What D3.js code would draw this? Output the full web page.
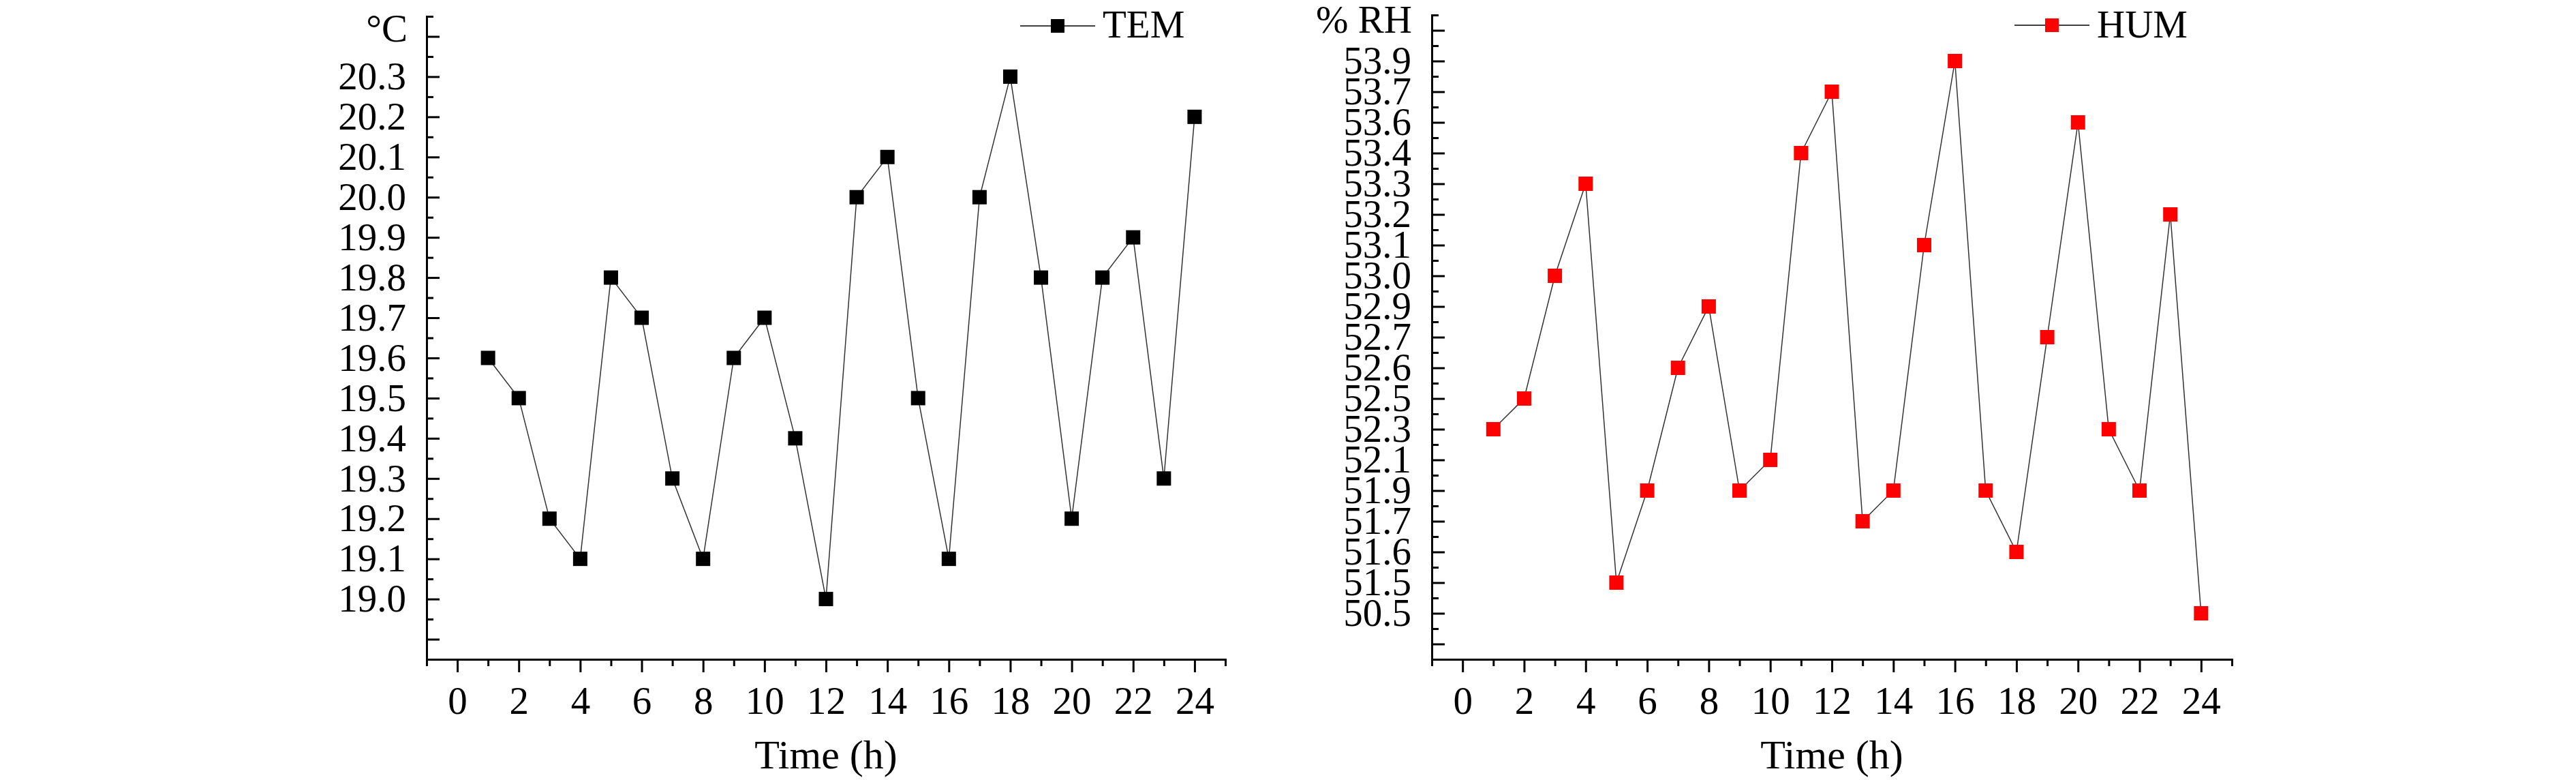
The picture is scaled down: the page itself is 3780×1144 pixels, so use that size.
<!DOCTYPE html>
<html>
<head>
  <meta charset="utf-8">
  <script src="https://d3js.org/d3.v7.min.js"></script>
  <style>
    body { margin: 0; background: #fff; }
    svg text { font-family: "Liberation Serif", "Times New Roman", serif; fill: #000; }
    .axis path, .axis line { stroke: #000; stroke-width: 3; }
    .axis path { stroke-linecap: square; }
  </style>
</head>
<body>
<script>
  // hourly readings, 1..24 h
  var hours = d3.range(1, 25);
  var tem = [19.6, 19.5, 19.2, 19.1, 19.8, 19.7, 19.3, 19.1, 19.6, 19.7, 19.4, 19.0,
             20.0, 20.1, 19.5, 19.1, 20.0, 20.3, 19.8, 19.2, 19.8, 19.9, 19.3, 20.2];
  var hum = [52.3, 52.5, 53.0, 53.3, 51.5, 51.9, 52.6, 52.9, 51.9, 52.1, 53.4, 53.7,
             51.7, 51.9, 53.1, 53.9, 51.9, 51.6, 52.7, 53.6, 52.3, 51.9, 53.2, 50.5];

  var xTicks = [0, 2, 4, 6, 8, 10, 12, 14, 16, 18, 20, 22, 24];
  var temTicks = ["19.0", "19.1", "19.2", "19.3", "19.4", "19.5", "19.6", "19.7",
                  "19.8", "19.9", "20.0", "20.1", "20.2", "20.3"];
  // the humidity axis is labelled with the measured values only, evenly spaced
  var humTicks = ["53.9", "53.7", "53.6", "53.4", "53.3", "53.2", "53.1", "53.0", "52.9",
                  "52.7", "52.6", "52.5", "52.3", "52.1", "51.9", "51.7", "51.6", "51.5", "50.5"];

  var W = 3780, H = 1144;
  var plotTop = 24, plotBottom = 967;
  var fs = 57;

  var svg = d3.select("body").append("svg")
      .attr("width", W)
      .attr("height", H);

  var xL = d3.scaleLinear().domain([-1, 25]).range([626, 1798]);
  var yL = d3.scaleLinear().domain([18.85, 20.45]).range([plotBottom, plotTop]);

  var xR = d3.scaleLinear().domain([-1, 25]).range([2101, 3275]);
  var yR = d3.scaleLinear().domain([humTicks.length + 0.5, -1.5]).range([plotBottom, 22]);

  function styleText(g) {
    g.attr("font-family", null).attr("font-size", null);
    g.selectAll("text").style("font-size", fs + "px");
  }

  function drawX(x) {
    var g = svg.append("g").attr("class", "axis")
        .attr("transform", "translate(0," + plotBottom + ")");
    g.append("g").call(d3.axisBottom(x).tickValues(d3.range(-1, 26, 2))
        .tickSizeInner(10).tickSizeOuter(0).tickFormat(""));
    var major = g.append("g").call(d3.axisBottom(x).tickValues(xTicks)
        .tickSizeInner(19).tickSizeOuter(0));
    major.selectAll("text").attr("y", 80).attr("dy", null);
    styleText(g);
    styleText(major);

    svg.append("text")
      .attr("x", (x.range()[0] + x.range()[1]) / 2)
      .attr("y", 1127)
      .attr("text-anchor", "middle")
      .style("font-size", fs + 3 + "px")
      .text("Time (h)");
  }

  function drawY(y, majors, minors, fmt) {
    var g = svg.append("g").attr("class", "axis")
        .attr("transform", "translate(" + (y === yL ? 626 : 2101) + ",0)");
    g.append("g").call(d3.axisLeft(y).tickValues(minors)
        .tickSizeInner(-10).tickSizeOuter(0).tickFormat(""));
    var major = g.append("g").call(d3.axisLeft(y).tickValues(majors)
        .tickSizeInner(-19).tickSizeOuter(0).tickPadding(30).tickFormat(fmt));
    styleText(g);
    styleText(major);
  }

  function drawSeries(x, y, vals, color) {
    var pts = hours.map(function(h, i) { return { h: h, v: vals[i] }; });
    var line = d3.line()
        .x(function(d) { return x(d.h); })
        .y(function(d) { return y(d.v); });
    svg.append("path")
      .datum(pts)
      .attr("d", line)
      .attr("fill", "none")
      .attr("stroke", "#333")
      .attr("stroke-width", 1.5);
    svg.append("g").selectAll("rect")
      .data(pts)
      .enter().append("rect")
        .attr("x", function(d) { return x(d.h) - 10.5; })
        .attr("y", function(d) { return y(d.v) - 10.5; })
        .attr("width", 21)
        .attr("height", 21)
        .attr("fill", color);
  }

  function drawLegend(x0, yy, name, color) {
    svg.append("line")
      .attr("x1", x0).attr("x2", x0 + 110)
      .attr("y1", yy).attr("y2", yy)
      .attr("stroke", "#000").attr("stroke-width", 1.5);
    svg.append("rect")
      .attr("x", x0 + 55 - 10).attr("y", yy - 10)
      .attr("width", 20).attr("height", 20)
      .attr("fill", color);
    svg.append("text")
      .attr("x", x0 + 121).attr("y", 55)
      .style("font-size", fs + "px")
      .text(name);
  }

  // temperature panel
  drawX(xL);
  drawY(yL,
        d3.range(189, 205).map(function(d) { return d / 10; }),
        d3.range(1885, 2046, 10).map(function(d) { return d / 100; }),
        function(d) { var s = d.toFixed(1); return temTicks.indexOf(s) >= 0 ? s : ""; });
  drawSeries(xL, yL, tem, "#000");
  drawLegend(1497, 38, "TEM", "#000");
  svg.append("text")
    .attr("x", 598).attr("y", 61)
    .attr("text-anchor", "end")
    .style("font-size", fs + "px")
    .text("°C");

  // humidity panel
  var humIndex = function(v) { return humTicks.indexOf(v.toFixed(1)); };
  drawX(xR);
  drawY(yR,
        d3.range(-1, humTicks.length + 1),
        d3.range(-1.5, humTicks.length + 1, 1),
        function(d) { return humTicks[d] || ""; });
  drawSeries(xR, function(v) { return yR(humIndex(v)); }, hum, "#ff0000");
  drawLegend(2956, 37, "HUM", "#ff0000");
  svg.append("text")
    .attr("x", 2072).attr("y", 48)
    .attr("text-anchor", "end")
    .style("font-size", fs + "px")
    .text("% RH");
</script>
</body>
</html>
